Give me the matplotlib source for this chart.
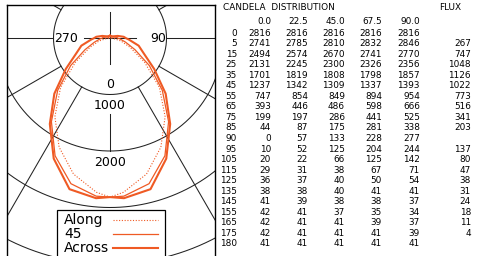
import numpy as np
import matplotlib
matplotlib.use("Agg")
import matplotlib.pyplot as plt
from matplotlib.lines import Line2D
from matplotlib.patches import Rectangle

# photometric data (candela) per vertical angle, for each C-plane
angles = [0, 5, 15, 25, 35, 45, 55, 65, 75, 85, 90, 95, 105, 115, 125, 135, 145, 155, 165, 175, 180]
planes = ["0.0", "22.5", "45.0", "67.5", "90.0"]
cd_00 = [2816, 2741, 2494, 2131, 1701, 1237, 747, 393, 199, 44, 0, 10, 20, 29, 36, 38, 41, 42, 42, 42, 41]
cd_22 = [2816, 2785, 2574, 2245, 1819, 1342, 854, 446, 197, 87, 57, 52, 22, 31, 37, 38, 39, 41, 41, 41, 41]
cd_45 = [2816, 2810, 2670, 2300, 1808, 1309, 849, 486, 286, 175, 133, 125, 66, 38, 40, 40, 38, 37, 41, 41, 41]
cd_67 = [2816, 2832, 2741, 2326, 1798, 1337, 894, 598, 441, 281, 228, 204, 125, 67, 50, 41, 38, 35, 39, 41, 41]
cd_90 = [2816, 2846, 2770, 2356, 1857, 1393, 954, 666, 525, 338, 277, 244, 142, 71, 54, 41, 37, 34, 37, 39, 41]
flux = [None, 267, 747, 1048, 1126, 1022, 773, 516, 341, 203, None, 137, 80, 47, 38, 31, 24, 18, 11, 4, None]

rings = [1000, 2000, 3000, 4000]
spokes = [30, 60, 90, 120, 150]

W, H = 480, 256
fig = plt.figure(figsize=(4.8, 2.56), dpi=100)
fx = lambda px: px / W
fy = lambda py: 1 - py / H

# polar diagram drawn on a plain axes, 0 deg pointing down
cx, cy = 110, 38
u = 1000 / 56.5          # candela per pixel
L, R, T, B = 7, 215, 5, 282
ax = fig.add_axes([fx(L), fy(B), (R - L) / W, (B - T) / H])
ax.set_xlim((L - cx) * u, (R - cx) * u)
ax.set_ylim(-(B - cy) * u, (cy - T) * u)
ax.set_xticks([])
ax.set_yticks([])
for s in ax.spines.values():
    s.set_linewidth(1.0)
ax.spines["bottom"].set_visible(False)

t = np.linspace(0, 2 * np.pi, 400)
for r in rings:
    ax.plot(r * np.cos(t), r * np.sin(t), color="#222222", lw=0.75)
for a in spokes:
    ar = np.radians(a)
    rr = np.array([1000, 6000])
    for sgn in (1, -1):
        ax.plot(sgn * rr * np.sin(ar), -rr * np.cos(ar), color="#222222", lw=0.75)
ax.plot([-460, 460], [0, 0], color="#222222", lw=0.75)
ax.plot([0, 0], [-460, 460], color="#222222", lw=0.75)
ax.plot([0, 0], [-1350, -2000], color="#222222", lw=0.75)

ax.text(-985, 0, "270", ha="left", va="center", fontsize=9)
ax.text(985, 0, "90", ha="right", va="center", fontsize=9)
ax.text(0, -830, "0", ha="center", va="center", fontsize=9)
ax.text(0, -1190, "1000", ha="center", va="center", fontsize=9)
ax.text(0, -2195, "2000", ha="center", va="center", fontsize=9)

col = "#EF5A24"
th = np.radians(angles)


def outline(vals):
    r = np.array(vals, dtype=float)
    x = np.concatenate([-r[::-1] * np.sin(th[::-1]), r[1:] * np.sin(th[1:])])
    y = np.concatenate([-r[::-1] * np.cos(th[::-1]), -r[1:] * np.cos(th[1:])])
    return x, y


styles = [("Along", cd_00, dict(lw=0.8, ls=(0, (1, 1.5)))),
          ("45", cd_45, dict(lw=0.9, ls="-")),
          ("Across", cd_90, dict(lw=1.5, ls="-"))]
for name, vals, st in styles:
    x, y = outline(vals)
    ax.plot(x, y, color=col, **st)

# legend box, text left and sample on the right
fig.add_artist(Rectangle((fx(57), fy(262)), (165 - 57) / W, (262 - 210) / H,
                         transform=fig.transFigure, fc="white", ec="black", lw=0.9))
for (name, vals, st), yy in zip(styles, [220, 234, 248]):
    fig.text(fx(64), fy(yy), name, ha="left", va="center", fontsize=10)
    fig.add_artist(Line2D([fx(113), fx(158)], [fy(yy), fy(yy)], transform=fig.transFigure,
                          color=col, **st))

# table on the right
fs = 6.4
fig.text(fx(223), fy(7), "CANDELA  DISTRIBUTION", ha="left", va="center", fontsize=fs)
fig.text(fx(439), fy(7), "FLUX", ha="left", va="center", fontsize=fs)
cols_x = [271, 308, 345, 382, 420]
for p, xx in zip(planes, cols_x):
    fig.text(fx(xx), fy(22), p, ha="right", va="center", fontsize=fs)
table = [cd_00, cd_22, cd_45, cd_67, cd_90]
for i, a in enumerate(angles):
    yy = 33 + i * 10.55
    fig.text(fx(237), fy(yy), str(a), ha="right", va="center", fontsize=fs)
    for vals, xx in zip(table, cols_x):
        fig.text(fx(xx), fy(yy), str(vals[i]), ha="right", va="center", fontsize=fs)
    if flux[i] is not None:
        fig.text(fx(471), fy(yy), str(flux[i]), ha="right", va="center", fontsize=fs)

fig.savefig("out.png", dpi=100)
